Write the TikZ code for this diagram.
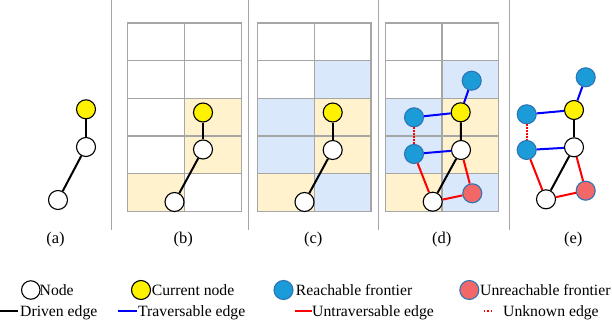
\documentclass[tikz,border=0pt]{standalone}
\usepackage{fontspec}
\setmainfont{Liberation Serif}
\definecolor{cellY}{HTML}{FFF2CC}
\definecolor{cellB}{HTML}{DAE8FC}
\definecolor{gridc}{HTML}{A6A6A6}
\definecolor{fblue}{HTML}{1B9BD7}
\definecolor{fred}{HTML}{F26767}
\definecolor{oblue}{HTML}{2E75B6}
\newcommand{\mycell}[4]{\fill[#4] ({#1+#2*56.7},{23+#3*37.66}) rectangle ++(56.7,37.66);}
\newcommand{\mygrid}[1]{%
  \draw[gridline] (#1,23) rectangle ++(113.4,188.3);
  \draw[gridline] ({#1+56.7},23) -- ++(0,188.3);
  \foreach \r in {1,2,3,4} {\draw[gridline] (#1,{23+\r*37.66}) -- ++(113.4,0);}
}
\begin{document}
\begin{tikzpicture}[x=1pt,y=-1pt,
  gridline/.style={gridc, line width=1.2pt},
  nd/.style={circle, draw=black, line width=1.1pt, minimum size=19pt, inner sep=0pt, fill=white},
  cur/.style={nd, fill=yellow},
  rf/.style={nd, fill=fblue, draw=oblue},
  uf/.style={nd, fill=fred, draw=oblue},
  drv/.style={line width=2pt, black},
  trv/.style={line width=2pt, blue},
  utr/.style={line width=2pt, red},
  unk/.style={line width=2pt, red, dash pattern=on 1.5pt off 1.5pt},
  sep/.style={gridc, line width=1pt},
  lbl/.style={font=\fontsize{16.5}{19}\selectfont, anchor=base, inner sep=0pt},
  leg/.style={font=\fontsize{15.7}{18}\selectfont, anchor=base west, inner sep=0pt}]
\useasboundingbox (0,0) rectangle (612,320);
\fill[white] (0,0) rectangle (612,320);
% separators
\foreach \x in {111.3,248.3,378.3,509} {\draw[sep] (\x,0) -- (\x,230);}
% panel b cells
\mycell{127.7}{1}{2}{cellY}
\mycell{127.7}{1}{3}{cellY}
\mycell{127.7}{0}{4}{cellY}
\mygrid{127.7}
% panel c cells
\foreach \L in {257.5,385.3} {
  \mycell{\L}{1}{1}{cellB}
  \mycell{\L}{0}{2}{cellB}
  \mycell{\L}{1}{2}{cellY}
  \mycell{\L}{0}{3}{cellB}
  \mycell{\L}{1}{3}{cellY}
  \mycell{\L}{0}{4}{cellY}
  \mycell{\L}{1}{4}{cellB}
  \mygrid{\L}
}
% panel a
\node[cur] (a1) at (86,109.3) {};
\node[nd] (a2) at (86,147) {};
\node[nd] (a3) at (58,200) {};
\draw[drv] (a1) -- (a2);
\draw[drv] (a2) -- (a3);
% panel b
\node[cur] (b1) at (203,112.5) {};
\node[nd] (b2) at (203,149.5) {};
\node[nd] (b3) at (174.5,202) {};
\draw[drv] (b1) -- (b2);
\draw[drv] (b2) -- (b3);
% panel c
\node[cur] (c1) at (332.7,112.5) {};
\node[nd] (c2) at (332.7,150) {};
\node[nd] (c3) at (304.5,202) {};
\draw[drv] (c1) -- (c2);
\draw[drv] (c2) -- (c3);
% panel d
\node[cur] (d1) at (460.7,112.3) {};
\node[nd] (d2) at (461,150) {};
\node[nd] (d3) at (432.7,201.7) {};
\node[rf] (d4) at (471.7,80.7) {};
\node[rf] (d5) at (414,117.3) {};
\node[rf] (d6) at (414,154) {};
\node[uf] (d7) at (472.3,193.3) {};
\draw[trv] (d4) -- (d1);
\draw[trv] (d5) -- (d1);
\draw[trv] (d6) -- (d2);
\draw[drv] (d1) -- (d2);
\draw[drv] (d2) -- (d3);
\draw[unk] (d5) -- (d6);
\draw[utr] (d6) -- (d3);
\draw[utr] (d2) -- (d7);
\draw[utr] (d3) -- (d7);
% panel e
\node[cur] (e1) at (574,110) {};
\node[nd] (e2) at (574,147.3) {};
\node[nd] (e3) at (546,199.3) {};
\node[rf] (e4) at (585.7,77.3) {};
\node[rf] (e5) at (526.7,114.3) {};
\node[rf] (e6) at (526.7,150) {};
\node[uf] (e7) at (585.7,190.7) {};
\draw[trv] (e4) -- (e1);
\draw[trv] (e5) -- (e1);
\draw[trv] (e6) -- (e2);
\draw[drv] (e1) -- (e2);
\draw[drv] (e2) -- (e3);
\draw[unk] (e5) -- (e6);
\draw[utr] (e6) -- (e3);
\draw[utr] (e2) -- (e7);
\draw[utr] (e3) -- (e7);
% panel labels
\node[lbl] (la) at (55.5,243.5) {(a)};
\node[lbl] (lb) at (183.3,243.5) {(b)};
\node[lbl] (lc) at (313.3,243.5) {(c)};
\node[lbl] (ld) at (441.7,243.5) {(d)};
\node[lbl] (le) at (573.3,243.5) {(e)};
% legend row 1
\node[nd, minimum size=18.5pt] (k1) at (30.8,290) {};
\node[leg] (t1) at (39.5,295.7) {Node};
\node[cur] (k2) at (141,290) {};
\node[leg] (t2) at (151.7,295.7) {Current node};
\node[rf] (k3) at (283.5,290) {};
\node[leg] (t3) at (295.7,295.7) {Reachable frontier};
\node[uf] (k4) at (469.3,290) {};
\node[leg] (t4) at (480,295.7) {Unreachable frontier};
% legend row 2
\coordinate (s1a) at (0,311); \coordinate (s1b) at (18.3,311);
\draw[drv, line width=2.4pt] (s1a) -- (s1b);
\node[leg] (t5) at (20,316.6) {Driven edge};
\coordinate (s2a) at (118.3,311); \coordinate (s2b) at (137,311);
\draw[trv, line width=2.4pt] (s2a) -- (s2b);
\node[leg] (t6) at (138,316.6) {Traversable edge};
\coordinate (s3a) at (295,311); \coordinate (s3b) at (311.5,311);
\draw[utr, line width=2.4pt] (s3a) -- (s3b);
\node[leg] (t7) at (312,316.6) {Untraversable edge};
\coordinate (s4a) at (483.5,311); \coordinate (s4b) at (493,311);
\draw[red, line width=1.6pt, dash pattern=on 1.6pt off 2pt] (s4a) -- (s4b);
\node[leg] (t8) at (503,316.6) {Unknown edge};
\end{tikzpicture}
\end{document}
